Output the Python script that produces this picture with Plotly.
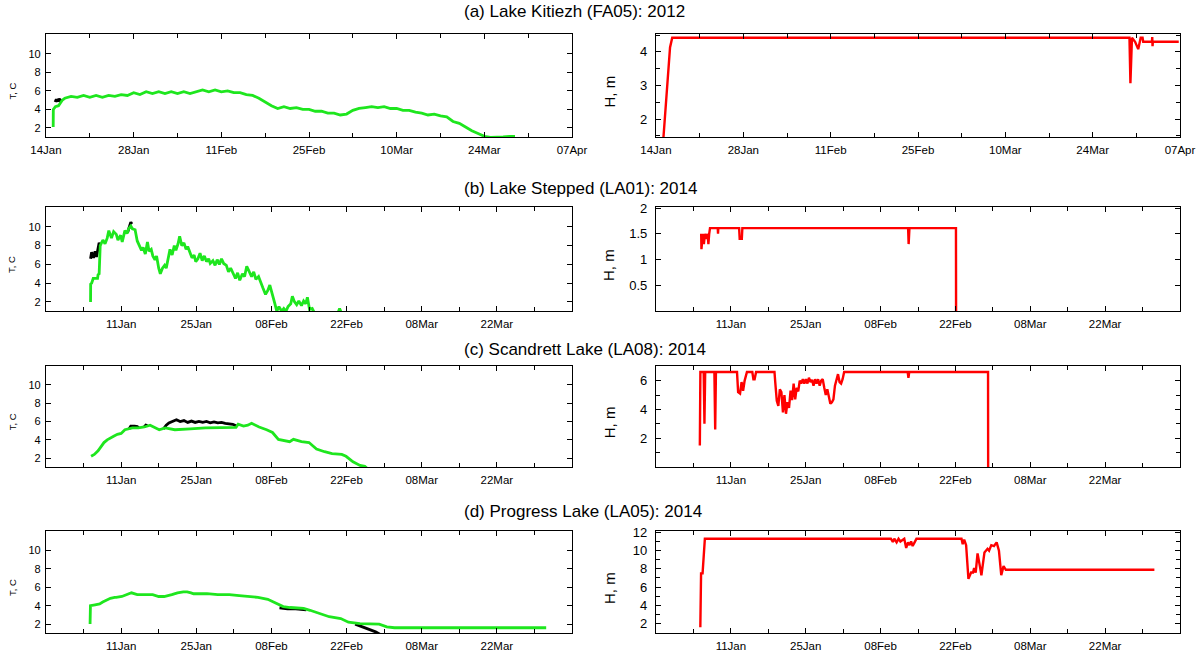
import pandas as pd
import plotly.graph_objects as go

# values
# left column: temperature T (C), black and green loggers; right column: depth H (m)

# ---- (a) Lake Kitiezh (FA05): 2012, days after 14 Jan 2012
a_start = "2012-01-14"
a_black_day = [1.45, 1.65, 1.85, 2.05, 2.25, 2.5]
a_black_T = [4.8, 5.1, 4.85, 5.15, 4.95, 5.1]
a_green_day = [1.15, 1.17, 1.5, 2.0, 2.3, 2.6,
               3, 4, 5, 6, 7, 8, 9, 10, 11, 12,
               13, 14, 15, 16, 17, 18, 19, 20, 21, 22,
               23, 24, 25, 26, 27, 28, 29, 30, 31, 32,
               33, 34, 35, 36, 37, 38, 39, 40, 41, 42,
               43, 44, 45, 46, 47, 48, 49, 50, 51, 52,
               53, 54, 55, 56, 57, 58, 59, 60, 61, 62,
               63, 64, 65, 66, 67, 68, 69, 70, 71, 72,
               73, 74, 74.9]
a_green_T = [2.1, 4.0, 4.3, 4.4, 4.7, 5.0,
             5.2, 5.4, 5.3, 5.5, 5.3, 5.5, 5.3, 5.5, 5.4, 5.6,
             5.5, 5.8, 5.6, 5.9, 5.7, 5.9, 5.7, 5.9, 5.7, 5.9,
             5.7, 5.9, 6.1, 5.9, 6.1, 5.9, 6.0, 5.8, 5.8, 5.6,
             5.5, 5.2, 4.8, 4.4, 4.1, 4.3, 4.1, 4.2, 4.0, 4.0,
             3.8, 3.8, 3.6, 3.6, 3.4, 3.5, 3.9, 4.1, 4.2, 4.3,
             4.2, 4.3, 4.1, 4.1, 3.9, 3.9, 3.7, 3.6, 3.4, 3.5,
             3.3, 3.2, 2.7, 2.5, 2.1, 1.7, 1.4, 1.1, 1.0, 1.0,
             1.05, 1.1, 1.1]
a_red_day = [1.17, 1.5, 1.95, 2.25, 2.6, 75.9, 76.05, 76.3, 76.8, 77.3,
             77.7, 78.0, 78.1, 79.5, 79.55, 79.6, 79.65, 83.8]
a_red_H = [1.40, 2.27, 3.44, 4.13, 4.42, 4.42, 3.07, 4.42, 4.30, 4.08,
           4.42, 4.42, 4.30, 4.30, 4.44, 4.17, 4.30, 4.30]

# ---- (b)-(d) 2014, days after 11 Jan 2014
start_2014 = "2014-01-11"

# (b) Lake Stepped (LA01)
b_black_day = [-5.70, -5.50, -5.15, -4.85, -4.60, -4.10, -3.85, -1.0, 1.20, 1.50, 1.80, 2.00]
b_black_T = [6.6, 7.3, 6.7, 7.4, 6.8, 8.3, 8.0, None, 9.4, 9.9, 10.5, 10.3]
b_green_day = [-5.70, -5.68, -5.50, -5.20, -4.40, -4.30, -4.10, -3.90, -3.40, -3.00,
               -2.60, -2.30, -1.80, -1.40, -0.90, -0.60, -0.10, 0.20, 0.70, 1.10,
               1.40, 1.80, 2.10, 2.60, 3.00, 3.40, 3.80, 4.10, 4.50, 4.90,
               5.20, 5.60, 5.90, 6.30, 6.60, 7.00, 7.30, 7.70, 8.10, 8.40,
               8.80, 9.10, 9.50, 9.90, 10.20, 10.60, 10.90, 11.30, 11.70, 12.10,
               12.40, 12.80, 13.20, 13.60, 13.90, 14.30, 14.70, 15.10, 15.50, 15.90,
               16.30, 16.60, 17.10, 17.50, 17.90, 18.30, 18.70, 19.10, 19.60, 20.00,
               20.40, 20.90, 21.30, 21.70, 22.10, 22.60, 23.00, 23.40, 23.90, 24.30,
               24.70, 25.10, 25.60, 26.00, 26.40, 26.90, 27.30, 27.70, 28.10, 28.60,
               29.00, 29.40, 29.90, 30.30, 30.70, 31.10, 31.60, 31.90, 32.30, 32.70,
               33.10, 33.60, 34.00, 34.40, 34.70, 35.10, 35.60, 35.90, 36.30, 40.20,
               40.50, 40.70, 40.90, 41.10]
b_green_T = [2.0, 3.9, 4.0, 4.5, 4.5, 4.9, 5.0, 8.0, 8.6, 8.2,
             8.8, 9.6, 8.8, 9.5, 9.2, 8.6, 9.1, 8.4, 9.6, 9.3,
             9.8, 10.1, 9.8, 9.7, 8.5, 7.9, 7.5, 7.8, 7.1, 8.4,
             7.4, 7.6, 6.9, 6.5, 6.9, 5.6, 5.0, 5.6, 5.9, 5.6,
             6.6, 7.6, 7.0, 8.0, 7.5, 8.2, 9.0, 8.0, 8.3, 7.6,
             7.9, 7.2, 6.7, 7.0, 6.3, 6.6, 7.2, 6.4, 6.9, 6.3,
             6.6, 6.1, 6.4, 5.9, 6.5, 6.0, 6.6, 6.1, 5.9, 5.2,
             5.6, 5.0, 4.5, 5.1, 4.3, 5.0, 4.7, 5.8, 5.2, 4.7,
             5.2, 4.4, 4.7, 4.0, 3.5, 2.8, 3.2, 3.8, 2.8, 1.9,
             1.0, 1.5, 1.0, 1.3, 1.0, 1.5, 1.8, 2.6, 2.0, 1.7,
             2.1, 1.6, 2.1, 1.8, 2.5, 1.2, 1.3, 1.0, 0.5, 0.5,
             1.0, 1.3, 1.0, 0.5]
b_red_day = [-5.55, -5.50, -5.25, -5.05, -4.85, -4.55, -4.35, -4.20, -4.05, -3.90,
             -2.45, -2.40, -2.35, 1.55, 1.65, 2.05, 2.15, 33.15, 33.25, 33.40,
             42.10, 42.12]
b_red_H = [1.50, 1.20, 1.50, 1.30, 1.50, 1.40, 1.50, 1.30, 1.50, 1.61,
           1.61, 1.50, 1.61, 1.61, 1.40, 1.40, 1.61, 1.61, 1.30, 1.61,
           1.61, 0.00]

# (c) Scandrett Lake (LA08)
c_black_day = [1.5, 1.8, 2.5, 3.0, 3.3, 3.4, 4.3, 4.6, 4.9, 5.0,
               7.9, 8.4, 8.9, 9.6, 10.3, 11.0, 11.7, 12.4, 13.1, 13.8,
               14.5, 15.2, 15.9, 16.6, 17.3, 18.0, 18.7, 19.4, 20.1, 20.8,
               21.5]
c_black_T = [5.2, 5.5, 5.5, 5.45, 5.3, None, 5.4, 5.6, 5.55, None,
             5.2, 5.6, 5.85, 6.0, 6.2, 6.0, 6.1, 5.9, 6.05, 5.9,
             6.0, 5.9, 6.0, 5.85, 5.95, 5.85, 5.9, 5.8, 5.75, 5.7,
             5.5]
c_green_day = [-5.6, -5.0, -4.3, -3.6, -3.2, -2.6, -2.1, -1.4, -0.7, 0.0,
               0.7, 1.4, 2.1, 3.2, 4.3, 5.4, 6.2, 7.1, 8.2, 10.0,
               12.9, 15.7, 21.4, 21.8, 22.8, 23.6, 24.3, 25.0, 25.7, 27.1,
               28.2, 29.3, 30.7, 31.4, 32.1, 33.6, 35.0, 36.4, 37.9, 39.3,
               41.1, 41.9, 43.2, 44.5, 45.4, 46.0]
c_green_T = [2.2, 2.4, 2.8, 3.3, 3.7, 4.0, 4.2, 4.4, 4.6, 4.7,
             5.1, 5.2, 5.3, 5.3, 5.4, 5.6, 5.4, 5.1, 5.3, 5.1,
             5.2, 5.3, 5.35, 5.7, 5.5, 5.6, 5.8, 5.6, 5.4, 5.1,
             4.8, 4.05, 3.9, 3.8, 4.05, 3.8, 3.7, 3.0, 2.7, 2.5,
             2.4, 2.2, 1.6, 1.2, 1.1, 0.8]
c_red_day = [-5.80, -5.70, -5.08, -4.94, -4.80, -3.08, -2.93, -2.79, 1.15, 1.36,
             1.72, 2.00, 2.29, 2.58, 3.01, 4.01, 4.22, 4.44, 4.72, 8.16,
             8.30, 8.59, 8.88, 9.16, 9.45, 9.74, 10.02, 10.31, 10.59, 10.88,
             11.17, 11.45, 11.74, 12.03, 12.31, 12.60, 12.88, 13.17, 13.46, 13.74,
             14.03, 14.32, 14.60, 14.89, 15.18, 15.46, 15.75, 16.03, 16.32, 16.61,
             16.89, 17.18, 17.47, 17.75, 18.04, 18.33, 18.61, 18.90, 19.18, 19.47,
             19.76, 20.04, 20.33, 20.62, 20.90, 21.19, 33.07, 33.21, 33.36, 48.10,
             48.12]
c_red_H = [1.5, 6.6, 6.6, 3.0, 6.6, 6.6, 2.6, 6.6, 6.6, 5.2,
           5.1, 5.9, 5.3, 6.0, 6.6, 6.6, 6.1, 6.1, 6.6, 6.6,
           5.9, 4.6, 4.25, 5.4, 5.2, 3.8, 5.0, 3.7, 4.5, 4.1,
           5.3, 4.65, 5.8, 4.7, 5.5, 5.25, 6.0, 5.8, 6.1, 5.8,
           6.1, 5.8, 6.2, 5.9, 6.05, 5.65, 6.1, 5.8, 6.1, 5.65,
           6.0, 6.1, 5.5, 5.0, 5.4, 4.85, 4.4, 4.5, 4.7, 5.65,
           6.1, 6.45, 5.9, 5.8, 6.1, 6.6, 6.6, 6.2, 6.6, 6.6,
           0.0]

# (d) Progress Lake (LA05)
d_black_day = [29.5, 31.0, 32.5, 34.5, 35.0, 43.6, 44.5, 45.5, 46.5, 47.4, 48.2]
d_black_T = [3.75, 3.65, 3.65, 3.55, None, 2.0, 1.8, 1.6, 1.35, 1.15, 0.9]
d_green_day = [-5.79, -5.72, -4.86, -4.0, -3.43, -2.0, -1.2, -0.93, 0.14, 1.0,
               1.93, 3.0, 4.5, 5.87, 7.0, 8.01, 9.44, 10.5, 11.59, 12.3,
               13.02, 13.5, 14.45, 16.0, 18.0, 20.17, 22.0, 23.75, 25.5, 27.32,
               28.76, 30.19, 31.5, 33.05, 34.0, 35.19, 36.62, 38.77, 40.92, 42.35,
               44.49, 48.07, 49.5, 50.93, 79.19]
d_green_T = [2.0, 4.0, 4.1, 4.2, 4.4, 4.8, 4.9, 4.9, 5.0, 5.2,
             5.4, 5.2, 5.2, 5.2, 5.0, 5.0, 5.2, 5.4, 5.5, 5.5,
             5.4, 5.3, 5.3, 5.3, 5.2, 5.2, 5.1, 5.0, 4.9, 4.7,
             4.3, 3.9, 3.8, 3.7, 3.7, 3.5, 3.2, 2.8, 2.6, 2.2,
             2.05, 2.0, 1.7, 1.6, 1.6]
d_red_day = [-5.71, -5.57, -5.29, -4.86, 29.93, 30.29, 30.57, 31.00, 31.36, 31.71,
             32.43, 32.79, 33.14, 33.43, 33.71, 34.00, 34.36, 34.71, 43.14, 43.36,
             43.64, 44.00, 44.43, 44.93, 45.29, 45.50, 45.79, 46.14, 46.57, 46.86,
             47.43, 48.00, 48.29, 48.71, 49.21, 49.71, 50.14, 50.57, 51.00, 51.43,
             79.21]
d_red_H = [1.6, 7.5, 7.5, 11.3, 11.3, 10.95, 11.3, 10.9, 11.3, 11.0,
           11.3, 10.3, 10.9, 10.6, 11.0, 10.5, 10.9, 11.3, 11.3, 10.7,
           11.2, 10.6, 6.9, 7.6, 7.6, 8.1, 7.6, 9.7, 8.3, 7.3,
           9.8, 10.2, 10.0, 10.6, 10.5, 10.9, 10.0, 7.3, 8.3, 7.9,
           7.9]

titles = ["(a) Lake Kitiezh (FA05): 2012", "(b) Lake Stepped (LA01): 2014",
          "(c) Scandrett Lake (LA08): 2014", "(d) Progress Lake (LA05): 2014"]

a_ticks = ["2012-01-14", "2012-01-28", "2012-02-11", "2012-02-25",
           "2012-03-10", "2012-03-24", "2012-04-07"]
ticks_2014 = ["2014-01-11", "2014-01-25", "2014-02-08", "2014-02-22",
              "2014-03-08", "2014-03-22"]
t_ticks = [2, 4, 6, 8, 10]

# ---- layout geometry (pixels of the 1200x653 page)
W, H = 1200, 653
cols_px = [(46, 572), (656, 1180)]
rows_px = [(34, 137), (207, 311), (365.5, 467), (531, 633)]
title_y = [12, 188, 349, 511]

GREEN = "#1ee61e"
RED = "#ff0000"
FONT = "Liberation Sans, Arial, sans-serif"
DAY_MS = 86400000


def to_dates(start, days):
    t0 = pd.Timestamp(start)
    return [t0 + pd.Timedelta(days=d) for d in days]


panels = [
    dict(start=a_start, xr=["2012-01-14", "2012-04-07"], ticks=a_ticks,
         T=[(a_black_day, a_black_T, "black"), (a_green_day, a_green_T, GREEN)],
         Hd=(a_red_day, a_red_H),
         hrange=[1.47, 4.53], hticks=[2, 3, 4], hminor=0.5),
    dict(start=start_2014, xr=["2013-12-28", "2014-04-05"], ticks=ticks_2014,
         T=[(b_black_day, b_black_T, "black"), (b_green_day, b_green_T, GREEN)],
         Hd=(b_red_day, b_red_H),
         hrange=[0, 2.02], hticks=[0.5, 1, 1.5, 2], hminor=None),
    dict(start=start_2014, xr=["2013-12-28", "2014-04-05"], ticks=ticks_2014,
         T=[(c_black_day, c_black_T, "black"), (c_green_day, c_green_T, GREEN)],
         Hd=(c_red_day, c_red_H),
         hrange=[0, 7.05], hticks=[2, 4, 6], hminor=1),
    dict(start=start_2014, xr=["2013-12-28", "2014-04-05"], ticks=ticks_2014,
         T=[(d_black_day, d_black_T, "black"), (d_green_day, d_green_T, GREEN)],
         Hd=(d_red_day, d_red_H),
         hrange=[0.97, 12.15], hticks=[2, 4, 6, 8, 10, 12], hminor=1),
]

fig = go.Figure()
layout = dict(width=W, height=H, margin=dict(l=0, r=0, t=0, b=0, autoexpand=False),
              paper_bgcolor="white", plot_bgcolor="white", showlegend=False,
              font=dict(family=FONT, color="black"))
annotations = []


def base_axis(font_size):
    return dict(showline=True, linecolor="black", linewidth=1.3, mirror="ticks",
                ticks="inside", ticklen=5, tickwidth=1.1, tickcolor="black",
                showgrid=False, zeroline=False, automargin=False,
                tickfont=dict(family=FONT, size=font_size, color="black"))


for r, p in enumerate(panels):
    y0, y1 = rows_px[r]
    ydom = [1 - y1 / H, 1 - y0 / H]
    for c in range(2):
        n = 2 * r + c + 1
        xref = "x" if n == 1 else f"x{n}"
        yref = "y" if n == 1 else f"y{n}"
        xname = "xaxis" if n == 1 else f"xaxis{n}"
        yname = "yaxis" if n == 1 else f"yaxis{n}"

        if c == 0:
            for days, vals, col in p["T"]:
                fig.add_trace(go.Scatter(x=to_dates(p["start"], days), y=vals,
                                         mode="lines", xaxis=xref, yaxis=yref,
                                         line=dict(color=col, width=2.8),
                                         hoverinfo="skip"))
        else:
            days, vals = p["Hd"]
            fig.add_trace(go.Scatter(x=to_dates(p["start"], days), y=vals,
                                     mode="lines", xaxis=xref, yaxis=yref,
                                     line=dict(color=RED, width=2.4),
                                     hoverinfo="skip"))

        xa = base_axis(11.5)
        xa.update(type="date", domain=[cols_px[c][0] / W, cols_px[c][1] / W],
                  anchor=yref, range=p["xr"], tickmode="array", tickvals=p["ticks"],
                  tickformat="%d%b", ticklabelstandoff=2,
                  minor=dict(ticks="inside", ticklen=4, tickwidth=1.1, tickcolor="black",
                             tick0=p["start"], dtick=7 * DAY_MS, showgrid=False))
        if c == 0:
            ya = base_axis(11)
            ya.update(domain=ydom, anchor=xref, range=[1.03, 12.12],
                      tickmode="array", tickvals=t_ticks, ticklabelstandoff=2)
        else:
            ya = base_axis(13)
            ya.update(domain=ydom, anchor=xref, range=p["hrange"],
                      tickmode="array", tickvals=p["hticks"], ticklabelstandoff=5)
            if p["hminor"]:
                ya["minor"] = dict(ticks="inside", ticklen=4, tickwidth=1.1,
                                   tickcolor="black", dtick=p["hminor"], tick0=0,
                                   showgrid=False)
        layout[xname] = xa
        layout[yname] = ya

    # panel title and axis titles
    annotations.append(dict(text=titles[r], x=462 / W, y=1 - title_y[r] / H,
                            xref="paper", yref="paper", xanchor="left", yanchor="middle",
                            showarrow=False, font=dict(family=FONT, size=17, color="black")))
    ymid = 1 - ((y0 + y1) / 2 + 6) / H
    annotations.append(dict(text="T, C", x=12 / W, y=ymid, xref="paper", yref="paper",
                            xanchor="center", yanchor="middle", textangle=-90,
                            showarrow=False, font=dict(family=FONT, size=9.5, color="black")))
    annotations.append(dict(text="H, m", x=609 / W, y=ymid, xref="paper", yref="paper",
                            xanchor="center", yanchor="middle", textangle=-90,
                            showarrow=False, font=dict(family=FONT, size=15, color="black")))

layout["annotations"] = annotations
fig.update_layout(**layout)
# the page body has a default 8px margin; drop it so the figure fills the window
fig.write_html("out.html", config={"displayModeBar": False},
               post_script="document.body.style.margin='0px';")
